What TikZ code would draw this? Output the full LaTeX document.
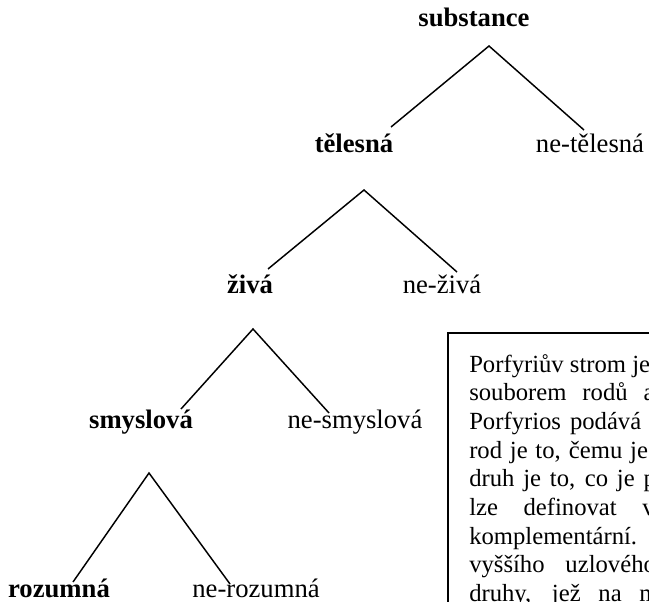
\documentclass[tikz,border=0pt]{standalone}
\usepackage{fontspec}
\setmainfont{Liberation Serif}
\begin{document}
\begin{tikzpicture}[x=0.75pt,y=-0.75pt,
  lbl/.style={anchor=base,inner sep=0pt,font=\fontsize{20}{24}\selectfont},
  blbl/.style={lbl,font=\fontsize{20}{24}\selectfont\bfseries},
  edge/.style={line width=1.1pt},
  txt/.style={anchor=base west,inner sep=0pt,font=\fontsize{18.5}{22}\selectfont}]
\useasboundingbox (0,0) rectangle (649,602);
\clip (0,0) rectangle (649,602);
% labels
\node[blbl] (sub) at (474,27) {substance};
\node[blbl] (tel) at (354,153) {tělesná};
\node[lbl] (ntel) at (590,153) {ne-tělesná};
\node[blbl] (ziv) at (250,293) {živá};
\node[lbl] (nziv) at (442,293) {ne-živá};
\node[blbl] (smy) at (141,428) {smyslová};
\node[lbl] (nsmy) at (355,428) {ne-smyslová};
\node[blbl] (roz) at (59,597) {rozumná};
\node[lbl] (nroz) at (256,597) {ne-rozumná};
% branch coordinates
\coordinate (a1) at (489,46);  \coordinate (l1) at (391,127); \coordinate (r1) at (584,130);
\coordinate (a2) at (364,190); \coordinate (l2) at (268,269); \coordinate (r2) at (457,272);
\coordinate (a3) at (253,329); \coordinate (l3) at (181,409); \coordinate (r3) at (329,413);
\coordinate (a4) at (149,473); \coordinate (l4) at (73,582);  \coordinate (r4) at (230,584);
\draw[edge] (l1) -- (a1) -- (r1);
\draw[edge] (l2) -- (a2) -- (r2);
\draw[edge] (l3) -- (a3) -- (r3);
\draw[edge] (l4) -- (a4) -- (r4);
% text box
\coordinate (bx) at (448,333);
\draw[line width=1.5pt] (700,333) -- (bx) -- (448,700);
\node[txt] (t1) at (469,372) {Porfyriův strom je};
\node[txt] (t2) at (469,400.7) {\makebox[139pt][s]{souborem rodů a}};
\node[txt] (t3) at (469,429.4) {\makebox[129pt][s]{Porfyrios podává}};
\node[txt] (t4) at (469,458.1) {\makebox[134pt][s]{rod je to, čemu je}};
\node[txt] (t5) at (469,486.8) {\makebox[140pt][s]{druh je to, co je p}};
\node[txt] (t6) at (469,515.5) {\makebox[139pt][s]{lze definovat v}};
\node[txt] (t7) at (469,544.2) {komplementární.};
\node[txt] (t8) at (469,572.9) {\makebox[140pt][s]{vyššího uzlového}};
\node[txt] (t9) at (469,601.6) {\makebox[142pt][s]{druhy, jež na m}};
\end{tikzpicture}
\end{document}
